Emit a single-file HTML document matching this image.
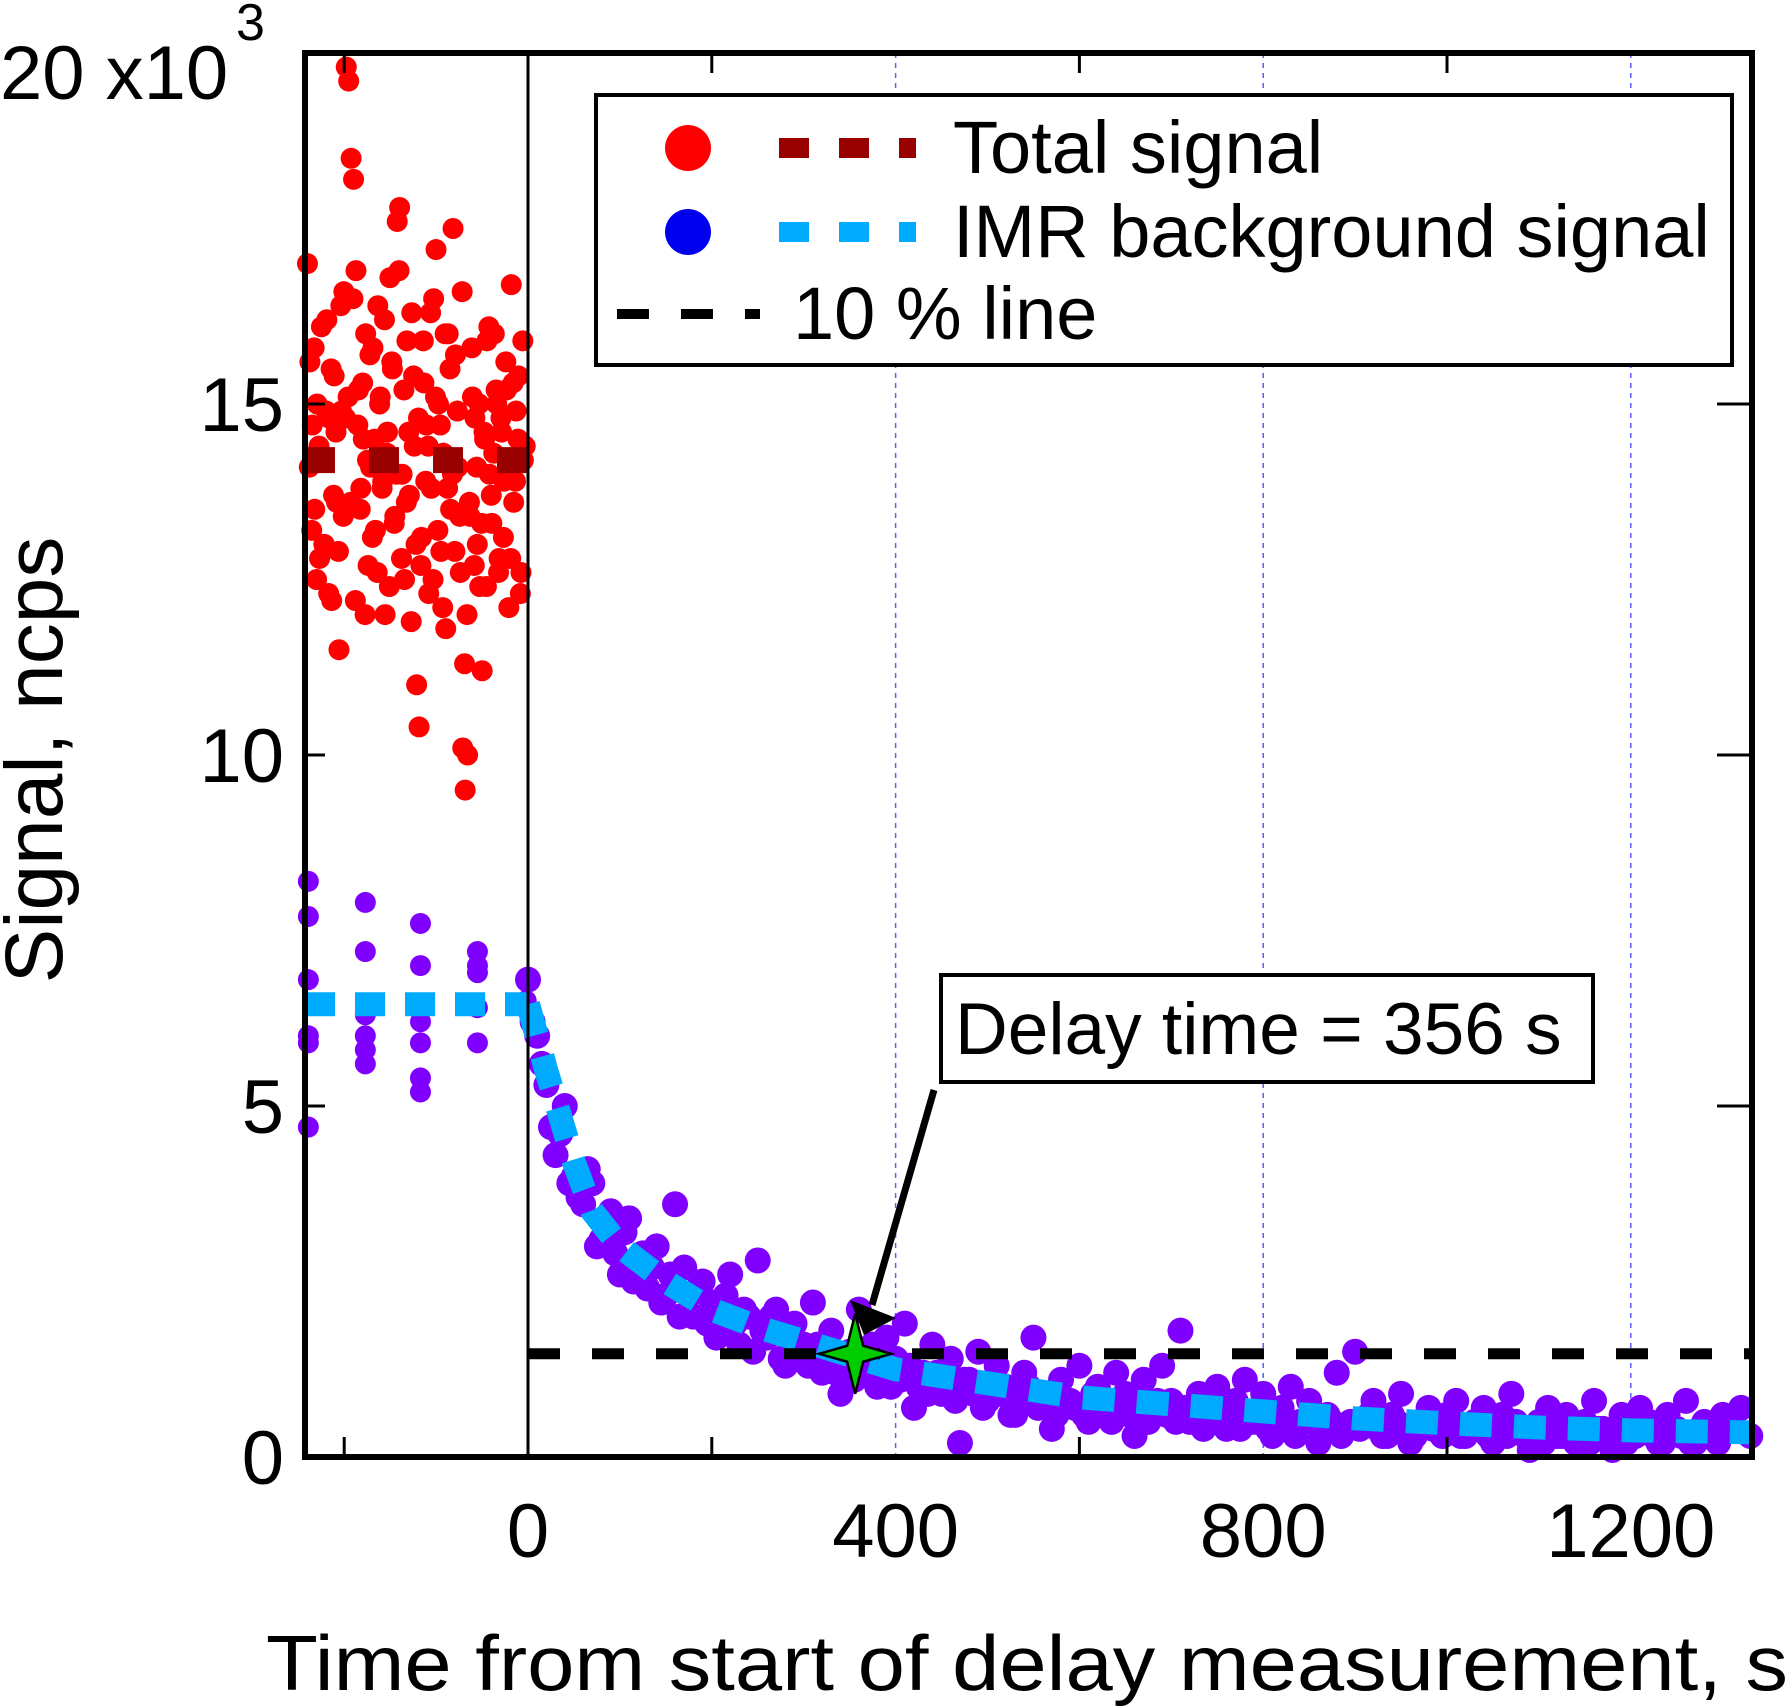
<!DOCTYPE html>
<html><head><meta charset="utf-8"><style>
html,body{margin:0;padding:0;background:#fff}
svg{display:block}
text{font-family:"Liberation Sans",sans-serif;fill:#000}
</style></head><body>
<svg id="chart" width="1789" height="1706" viewBox="0 0 1789 1706" xmlns="http://www.w3.org/2000/svg">
<g id="grid"></g>
<g id="marks"></g>
<g id="axes"></g>
<g>
  <rect x="596" y="95" width="1136" height="270" fill="#fff" stroke="#000" stroke-width="4"/>
  <circle cx="688" cy="148" r="23" fill="#ff0000"/>
  <line x1="779" y1="148" x2="916" y2="148" stroke="#990000" stroke-width="20" stroke-dasharray="30,30"/>
  <text x="953" y="173" font-size="74">Total signal</text>
  <circle cx="688" cy="232" r="23" fill="#0000ee"/>
  <line x1="779" y1="232" x2="916" y2="232" stroke="#00aaff" stroke-width="20" stroke-dasharray="30,30"/>
  <text x="953" y="257" font-size="74">IMR background signal</text>
  <line x1="617" y1="314" x2="760" y2="314" stroke="#000" stroke-width="10" stroke-dasharray="32,32"/>
  <text x="793" y="339" font-size="74">10 % line</text>
</g>
<g>
  <rect x="941" y="975" width="652" height="107" fill="#fff" stroke="#000" stroke-width="4"/>
  <text x="955" y="1054" font-size="73">Delay time = 356 s</text>
  <line x1="934" y1="1090" x2="872" y2="1305" stroke="#000" stroke-width="7"/>
  <polygon points="864,1335 850,1300 896,1318" fill="#000"/>
</g>
<g id="labels">
  <text transform="translate(62,760) rotate(-90)" text-anchor="middle" font-size="82">Signal, ncps</text>
  <text x="266" y="1690" font-size="78" textLength="1522" lengthAdjust="spacingAndGlyphs">Time from start of delay measurement, s</text>
  <text x="0" y="99" font-size="76">20 x10</text>
  <text x="236" y="40" font-size="52">3</text>
</g>
</svg>
<script>
var xTicks=[0,400,800,1200];
var xMinor=[-200,200,600,1000];
var yTicks=[0,5000,10000,15000];
var yTickLabels=["0","5","10","15"];
var totalVals=[17.0,15.6,14.7,13.5,15.0,12.8,14.2,13.0,16.2,14.8,12.2,15.4,13.6,11.5,14.9,16.6,19.8,19.6,18.5,18.2,16.9,15.2,13.8,14.5,16.0,12.7,14.1,15.8,13.2,16.4,15.1,13.9,12.0,14.6,16.8,15.5,13.4,17.6,17.8,14.0,12.5,15.9,13.7,16.3,14.4,11.0,10.4,13.1,15.3,14.7,12.3,13.8,16.5,17.2,15.0,12.9,14.3,11.8,16.0,13.5,17.5,15.7,14.1,12.6,10.1,9.5,10.0,13.4,15.1,14.8,13.0,12.4,11.2,14.5,15.9,14.0,13.3,16.0,15.0,12.8,14.6,13.9,15.2,12.1,16.7,13.6,14.9,15.4,12.6,14.2];
var totalVals2=[14.1,13.2,15.8,12.5,14.4,16.1,13.0,14.9,12.3,15.5,13.7,14.6,12.9,16.4,13.4,14.8,15.1,13.6,16.5,12.2,14.7,13.5,15.3,12.0,14.2,15.7,13.1,14.5,12.6,15.0,13.8,16.2,14.3,12.4,15.6,13.3,14.0,16.9,12.8,15.2,13.6,14.6,11.9,15.4,13.0,14.8,12.7,15.9,13.9,14.4,16.3,12.5,15.1,13.2,14.7,12.1,16.0,13.8,15.5,14.0,12.9,14.9,13.4,16.6,11.3,12.0,13.6,15.8,12.7,14.1,15.0,13.3,14.6,12.4,16.1,13.7,14.3,15.2,12.6,14.8,13.1,15.6,14.0,12.8,15.3,13.9,14.5,12.3,15.9,14.4];
var preBgT=[-239,-239,-239,-239,-239,-239,-177,-177,-177,-177,-177,-177,-117,-117,-117,-117,-117,-117,-55,-55,-55,-55,-55,-2,-2];
var preBgV=[8.2,7.7,6.8,6.0,5.9,4.7,7.9,7.2,6.3,6.0,5.6,5.8,7.6,7.0,6.2,5.9,5.4,5.2,7.2,7.0,6.9,6.4,5.9,6.8,6.5];
var bgVals=[6.8,6.0,5.3,4.3,5.0,4.0,3.6,3.9,3.1,3.5,2.6,3.4,2.8,2.4,3.0,2.3,3.6,2.7,2.0,2.5,2.2,1.8,2.6,1.6,2.0,2.8,1.7,2.1,1.3,1.9,1.6,2.2,1.2,1.8,0.9,1.5,2.1,1.3,1.0,1.7,1.4,1.9,0.7,1.2,1.6,0.9,1.4,0.2,1.1,1.5,0.8,1.3,1.0,0.6,1.2,1.7,0.9,0.4,1.1,0.8,1.3,0.5,1.0,0.7,1.2,0.9,0.3,1.1,0.6,1.3,0.8,1.8,0.5,0.9,0.6,1.0,0.4,0.8,1.1,0.5,0.9,0.3,0.7,1.0,0.5,0.8,0.2,0.6,1.2,0.4,1.5,0.5,0.8,0.3,0.6,0.9,0.2,0.5,0.7,0.4,0.6,0.8,0.3,0.5,0.7,0.2,0.6,0.9,0.4,0.1,0.5,0.7,0.3,0.6,0.2,0.5,0.8,0.4,0.1,0.6,0.3,0.7,0.5,0.2,0.6,0.4,0.8,0.2,0.5,0.3,0.6,0.4,0.7,0.3];
var bgVals2=[6.2,5.6,4.7,4.6,3.9,3.7,4.1,3.0,3.3,2.9,3.2,2.5,2.9,2.7,2.2,2.6,2.0,2.3,2.4,1.9,1.7,2.3,1.9,2.1,1.5,1.8,2.0,1.4,1.7,1.5,1.3,1.6,1.5,1.2,1.4,1.1,1.3,1.6,1.2,1.0,1.1,1.3,1.0,0.9,1.2,1.0,0.8,1.1,0.9,0.7,1.0,0.9,0.6,0.8,1.0,0.7,0.9,0.6,0.8,0.7,0.6,0.9,0.7,0.5,0.8,0.6,0.7,0.5,0.8,0.6,0.5,0.7,0.6,0.4,0.7,0.5,0.6,0.4,0.6,0.5,0.4,0.6,0.5,0.3,0.5,0.6,0.4,0.5,0.3,0.5,0.4,0.6,0.4,0.3,0.5,0.4,0.3,0.5,0.4,0.3,0.5,0.3,0.4,0.5,0.3,0.4,0.3,0.5,0.3,0.4,0.2,0.4,0.3,0.5,0.3,0.2,0.4,0.3,0.4,0.2,0.3,0.4,0.3,0.2,0.4,0.3,0.2,0.4,0.3,0.2];
var fitT=[0,20,50,70,100,150,200,250,300,350,400,500,600,700,800,900,1000,1100,1200,1332];
var fitV=[6.45,5.5,4.2,3.5,3.0,2.5,2.1,1.85,1.65,1.45,1.25,1.05,0.85,0.75,0.65,0.55,0.48,0.42,0.38,0.35];
var totalLevel=14.2, preBgLevel=6.45, tenPct=1.47, delayT=356;
var X0=528, XS=0.919, Y0=1457, YS=0.0702, L=305, R=1752, T=53, B=1457;
function xp(t){return X0+t*XS;}
function yp(v){return Y0-v*YS;}
var NS="http://www.w3.org/2000/svg";
function mk(par,tag,at){var e=document.createElementNS(NS,tag);for(var k in at)e.setAttribute(k,at[k]);par.appendChild(e);return e;}
var grid=document.getElementById('grid'),marks=document.getElementById('marks'),axes=document.getElementById('axes'),labels=document.getElementById('labels');
for(var i=1;i<xTicks.length;i++){
 var g=mk(grid,'line',{x1:xp(xTicks[i]),x2:xp(xTicks[i]),y1:T,y2:B,stroke:'#5b5bff','stroke-width':1.5,'stroke-dasharray':'5,5'});
 
 
}
var tStep=235/(totalVals.length-1);
for(var i=0;i<totalVals.length;i++){
 var c=mk(marks,'circle',{cx:xp(-240+i*tStep),cy:yp(totalVals[i]*1000),r:10.5,fill:'#ff0000'});
 
 
 if(i<totalVals2.length){
 var c2=mk(marks,'circle',{cx:xp(-238+i*tStep),cy:yp(totalVals2[i]*1000),r:10.5,fill:'#ff0000'});
 
 
 }
}
var tl=mk(marks,'line',{x1:L,x2:xp(0),y1:yp(totalLevel*1000),y2:yp(totalLevel*1000),stroke:'#990000','stroke-width':26,'stroke-dasharray':'30,34'});


for(var i=0;i<preBgT.length;i++){
 var c=mk(marks,'circle',{cx:xp(preBgT[i]),cy:yp(preBgV[i]*1000),r:10.5,fill:'#8000ff'});
 
 
}
for(var i=0;i<bgVals.length;i++){
 var c=mk(marks,'circle',{cx:xp(Math.min(i*10,1330)),cy:yp(bgVals[i]*1000),r:13,fill:'#8000ff'});
 
 
 if(i<bgVals2.length){
 var c2=mk(marks,'circle',{cx:xp(Math.min(i*10+5,1330)),cy:yp(bgVals2[i]*1000),r:13,fill:'#8000ff'});
 
 
 }
}
var pl=mk(marks,'line',{x1:L,x2:xp(0),y1:yp(preBgLevel*1000),y2:yp(preBgLevel*1000),stroke:'#00aaff','stroke-width':24,'stroke-dasharray':'30,20'});


var pts=fitT.map(function(t,i){return xp(t)+','+yp(fitV[i]*1000);}).join(' ');
var fl=mk(marks,'polyline',{points:pts,fill:'none',stroke:'#00aaff','stroke-width':24,'stroke-dasharray':'32,22'});


var tp=mk(marks,'line',{x1:xp(0),x2:R,y1:yp(tenPct*1000),y2:yp(tenPct*1000),stroke:'#000','stroke-width':11,'stroke-dasharray':'32,32'});


var sx=xp(delayT),sy=yp(tenPct*1000);
var st=mk(marks,'polygon',{points:(sx)+','+(sy-40)+' '+(sx+8)+','+(sy-8)+' '+(sx+36)+','+sy+' '+(sx+8)+','+(sy+8)+' '+sx+','+(sy+40)+' '+(sx-8)+','+(sy+8)+' '+(sx-36)+','+sy+' '+(sx-8)+','+(sy-8),fill:'#00cc00',stroke:'#000','stroke-width':2.5});


var fr=mk(axes,'rect',{x:L,y:T,width:R-L,height:B-T,fill:'none',stroke:'#000','stroke-width':6});


var zl=mk(axes,'line',{x1:xp(0),x2:xp(0),y1:T,y2:B,stroke:'#000','stroke-width':3});


for(var i=0;i<xMinor.length;i++){
 var a=mk(axes,'line',{x1:xp(xMinor[i]),x2:xp(xMinor[i]),y1:B,y2:B-20,stroke:'#000','stroke-width':3});
 
 
 var b=mk(axes,'line',{x1:xp(xMinor[i]),x2:xp(xMinor[i]),y1:T,y2:T+20,stroke:'#000','stroke-width':3});
 
 
}
for(var i=0;i<xTicks.length;i++){
 var t=mk(labels,'text',{x:xp(xTicks[i]),y:1557,'font-size':76,'text-anchor':'middle'});
 t.textContent=xTicks[i];
 
 
}
for(var i=0;i<yTicks.length;i++){
 var y=yp(yTicks[i]);
 var a=mk(axes,'line',{x1:L,x2:L+20,y1:y,y2:y,stroke:'#000','stroke-width':3});
 
 
 var b=mk(axes,'line',{x1:R,x2:R-35,y1:y,y2:y,stroke:'#000','stroke-width':3});
 
 
 var t=mk(labels,'text',{x:284,y:y+27,'font-size':76,'text-anchor':'end'});
 t.textContent=yTickLabels[i];
 
 
}
</script>
</body></html>
